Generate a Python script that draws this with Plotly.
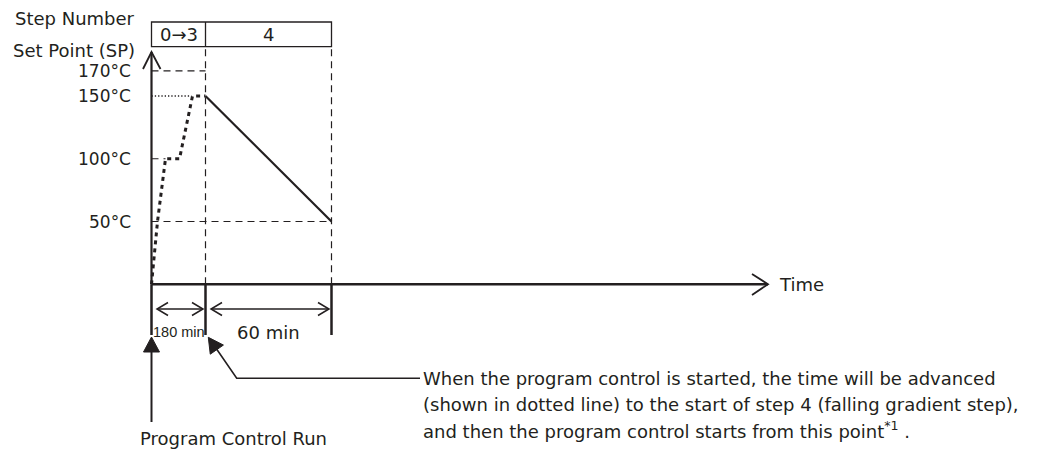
import math
import plotly.graph_objects as go

W, H = 1059, 453
INK = "#231f20"
FONT = "DejaVu Sans"

# ---- chart data ----
step_names = ["0\u21923", "4"]
step_edges = [0, 54, 180]               # schematic time: run start, start of step 4, end of step 4
step_durations = ["180 min", "60 min"]

temp_labels = ["170\u00b0C", "150\u00b0C", "100\u00b0C", "50\u00b0C"]
temp_values = [170, 150, 100, 50]
guide_ends = [54, 40, 14, 180]          # where each set point guide stops on the time axis

advance_t = [0, 6, 14, 28, 41, 54]      # steps 0-3, skipped over (dotted)
advance_sp = [0, 50, 100, 100, 150, 150]
ramp_t = [54, 180]                      # step 4, falling gradient
ramp_sp = [150, 50]

note_lines = [
    "When the program control is started, the time will be advanced",
    "(shown in dotted line) to the start of step 4 (falling gradient step),",
    "and then the program control starts from this point<sup>*1</sup> .",
]

# ---- layout helpers (pixel rows of the page -> paper) ----
OFF = 8              # page body margin around the plot div
ORIGIN_PX = 151.5
ZERO_ROW = 284.25
PX_PER_C = 1.255


def py(row):
    return 1 - (row - OFF) / H


def pxp(col):
    return (col - OFF) / W


def seg(points, close=False):
    s = "M" + " L".join(f"{u},{py(r)}" for u, r in points)
    return s + (" Z" if close else "")


def head(tip, tail, length=15, half=8):
    # filled arrowhead in (time unit == pixel, row) space
    dx, dy = tip[0] - tail[0], tip[1] - tail[1]
    n = math.hypot(dx, dy)
    ux, uy = dx / n, dy / n
    bx, by = tip[0] - ux * length, tip[1] - uy * length
    return seg([tip, (bx - uy * half, by + ux * half), (bx + uy * half, by - ux * half)], close=True)


fig = go.Figure()

# set point guides
for v, end in zip(temp_values, guide_ends):
    dotted = v == 150
    fig.add_trace(go.Scatter(
        x=[0, end], y=[v, v], mode="lines",
        line=dict(color=INK, width=1.3 if dotted else 1.2,
                  dash="1.3px,2px" if dotted else "7px,5px"),
        hoverinfo="skip"))

# advanced (skipped) part
fig.add_trace(go.Scatter(x=advance_t, y=advance_sp, mode="lines",
                         line=dict(color=INK, width=3, dash="4px,4px"),
                         hoverinfo="skip"))
# falling gradient step
fig.add_trace(go.Scatter(x=ramp_t, y=ramp_sp, mode="lines",
                         line=dict(color=INK, width=2.2), hoverinfo="skip"))

shapes = []
line_thick = dict(color=INK, width=2.5)
# time axis + arrowhead
t_end = 616.5
shapes.append(dict(type="path", xref="x", yref="paper",
                   path=seg([(0, ZERO_ROW), (t_end, ZERO_ROW)]), line=line_thick))
shapes.append(dict(type="path", xref="x", yref="paper",
                   path=seg([(t_end - 16, 274), (t_end, ZERO_ROW), (t_end - 16, 295)]),
                   line=dict(color=INK, width=1.8)))
# SP axis + arrowhead
shapes.append(dict(type="path", xref="x", yref="paper",
                   path=seg([(0, ZERO_ROW), (0, 52)]), line=dict(color=INK, width=2.2)))
shapes.append(dict(type="path", xref="x", yref="paper",
                   path=seg([(-8.5, 69), (0, 52), (9, 69)]), line=dict(color=INK, width=1.8)))

# step number box
BOX_TOP, BOX_BOT = 22, 46.7
shapes.append(dict(type="rect", xref="x", yref="paper", x0=step_edges[0], x1=step_edges[-1],
                   y0=py(BOX_BOT), y1=py(BOX_TOP), line=dict(color=INK, width=1.3)))
for e in step_edges[1:-1]:
    shapes.append(dict(type="line", xref="x", yref="paper", x0=e, x1=e,
                       y0=py(BOX_BOT), y1=py(BOX_TOP), line=dict(color=INK, width=1.3)))

# dashed step boundaries
for e in step_edges[1:]:
    shapes.append(dict(type="line", xref="x", yref="paper", x0=e, x1=e,
                       y0=py(ZERO_ROW), y1=py(BOX_BOT),
                       line=dict(color=INK, width=1.2, dash="7px,5px")))

# tick marks below the time axis
for e in step_edges:
    shapes.append(dict(type="line", xref="x", yref="paper", x0=e, x1=e,
                       y0=py(335), y1=py(ZERO_ROW), line=line_thick))

# duration double arrows
AR_ROW = 309
for a, b in zip(step_edges[:-1], step_edges[1:]):
    l, r = a + 5.5, b - 2.5
    shapes.append(dict(type="path", xref="x", yref="paper",
                       path=seg([(l, AR_ROW), (r, AR_ROW)]), line=dict(color=INK, width=1.5)))
    shapes.append(dict(type="path", xref="x", yref="paper",
                       path=seg([(l + 11, AR_ROW - 6.5), (l, AR_ROW), (l + 11, AR_ROW + 6.5)]),
                       line=dict(color=INK, width=1.5)))
    shapes.append(dict(type="path", xref="x", yref="paper",
                       path=seg([(r - 11, AR_ROW - 6.5), (r, AR_ROW), (r - 11, AR_ROW + 6.5)]),
                       line=dict(color=INK, width=1.5)))

# "Program Control Run" arrow
run_tip, run_tail = (step_edges[0], 337), (step_edges[0], 422)
shapes.append(dict(type="path", xref="x", yref="paper",
                   path=seg([run_tail, (run_tip[0], run_tip[1] + 10)]), line=dict(color=INK, width=2)))
shapes.append(dict(type="path", xref="x", yref="paper", path=head(run_tip, run_tail),
                   fillcolor=INK, line=dict(color=INK, width=1)))

# arrow to the start of step 4, with leader to the note
s4_tip, s4_tail = (step_edges[1] + 2.8, 337.3), (85.2, 378.3)
shapes.append(dict(type="path", xref="x", yref="paper",
                   path=seg([(268.5, 378.3), s4_tail, (s4_tip[0] + 5, s4_tip[1] + 7)]),
                   line=dict(color=INK, width=1.6)))
shapes.append(dict(type="path", xref="x", yref="paper", path=head(s4_tip, s4_tail),
                   fillcolor=INK, line=dict(color=INK, width=1)))

ann = []
txt = dict(family=FONT, size=18, color=INK)

ann.append(dict(x=pxp(137), y=py(18), xref="paper", yref="paper", text="Step Number",
                xanchor="right", yanchor="middle", showarrow=False, font=txt))
ann.append(dict(x=pxp(137), y=py(50), xref="paper", yref="paper", text="Set Point (SP)",
                xanchor="right", yanchor="middle", showarrow=False, font=txt))

for lab, v in zip(temp_labels, temp_values):
    ann.append(dict(x=pxp(133), y=v, xref="paper", yref="y", text=lab,
                    xanchor="right", yanchor="middle", showarrow=False,
                    font=dict(family=FONT, size=17, color=INK)))

for name, a, b in zip(step_names, step_edges[:-1], step_edges[1:]):
    ann.append(dict(x=(a + b) / 2, y=py((BOX_TOP + BOX_BOT) / 2), xref="x", yref="paper",
                    text=name, xanchor="center", yanchor="middle", showarrow=False, font=txt))

dur_fonts = [dict(family="Liberation Sans", size=14.5, color=INK), txt]
for d, a, b, f in zip(step_durations, step_edges[:-1], step_edges[1:], dur_fonts):
    ann.append(dict(x=(a + b) / 2, y=py(332), xref="x", yref="paper", text=d,
                    xanchor="center", yanchor="middle", showarrow=False, font=f))

ann.append(dict(x=t_end + 9, y=py(ZERO_ROW), xref="x", yref="paper", text="Time",
                xanchor="left", yanchor="middle", showarrow=False, font=txt))

ann.append(dict(x=81.5, y=py(438), xref="x", yref="paper", text="Program Control Run",
                xanchor="center", yanchor="middle", showarrow=False, font=txt))

for i, line in enumerate(note_lines):
    ann.append(dict(x=269.5, y=py(378 + 26 * i), xref="x", yref="paper", text=line,
                    xanchor="left", yanchor="middle", showarrow=False, font=txt))

fig.update_layout(
    width=W, height=H,
    margin=dict(l=0, r=0, t=0, b=0),
    paper_bgcolor="white", plot_bgcolor="white",
    showlegend=False,
    font=dict(family=FONT, color=INK),
    xaxis=dict(range=[-(ORIGIN_PX - OFF), W - (ORIGIN_PX - OFF)], visible=False, fixedrange=True),
    yaxis=dict(range=[-(H - (ZERO_ROW - OFF)) / PX_PER_C, (ZERO_ROW - OFF) / PX_PER_C],
               visible=False, fixedrange=True),
    shapes=shapes,
    annotations=ann,
)

fig.write_html("out.html")
